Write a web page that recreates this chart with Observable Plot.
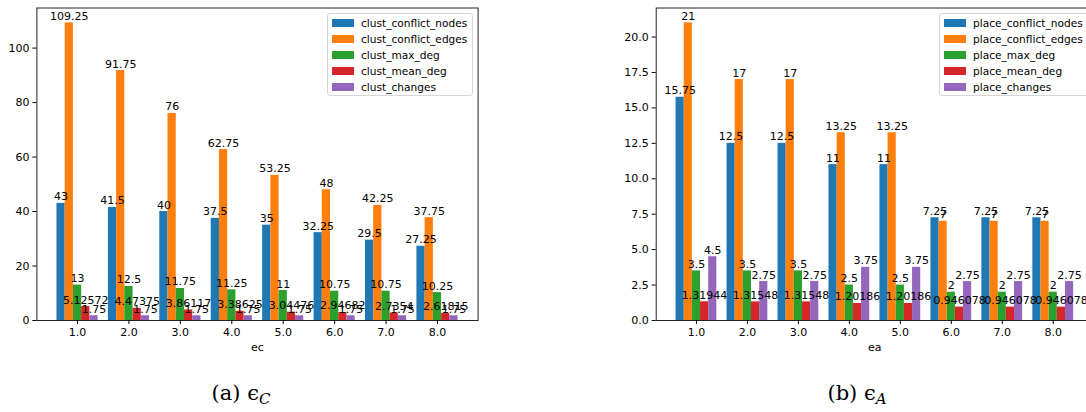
<!DOCTYPE html>
<html>
<head>
<meta charset="utf-8">
<script src="https://cdn.jsdelivr.net/npm/d3@7"></script>
<script src="https://cdn.jsdelivr.net/npm/@observablehq/plot@0.6"></script>
<style>
  html, body { margin: 0; padding: 0; background: #fff; }
  body { width: 1086px; height: 412px; overflow: hidden; position: relative; font-family: "DejaVu Sans", sans-serif; }
  .panel { position: absolute; top: 0; }
  .panel svg { max-width: none !important; display: block; }
  .legend { position: absolute; top: 13px; height: 83px; border: 1px solid #d6d6d6; border-radius: 3px; background: rgba(255,255,255,0.85); box-sizing: border-box; }
  .row { position: absolute; left: 0; height: 16px; line-height: 16px; font-size: 10.6px; color: #000; white-space: nowrap; }
  .sw { position: absolute; left: 4px; top: 4px; width: 22px; height: 8px; }
  .lab { position: absolute; left: 33px; top: 0; }
  .caption { position: absolute; top: 381px; font-family: "DejaVu Serif", "Liberation Serif", serif; font-size: 21px; color: #000; transform: translateX(-50%); white-space: nowrap; }
  .caption sub { font-size: 15px; font-style: italic; vertical-align: -4px; }
</style>
</head>
<body>
<script>
// ---------- data ----------
const categories = [1, 2, 3, 4, 5, 6, 7, 8];

const clustSeries = ["clust_conflict_nodes", "clust_conflict_edges", "clust_max_deg", "clust_mean_deg", "clust_changes"];
const clustConflictNodes = [43, 41.5, 40, 37.5, 35, 32.25, 29.5, 27.25];
const clustConflictEdges = [109.25, 91.75, 76, 62.75, 53.25, 48, 42.25, 37.75];
const clustMaxDeg = [13, 12.5, 11.75, 11.25, 11, 10.75, 10.75, 10.25];
const clustMeanDeg = [5.12572, 4.47375, 3.86117, 3.38625, 3.04476, 2.94682, 2.7354, 2.61815];
const clustChanges = [1.75, 1.75, 1.75, 1.75, 1.75, 1.75, 1.75, 1.75];

const placeSeries = ["place_conflict_nodes", "place_conflict_edges", "place_max_deg", "place_mean_deg", "place_changes"];
const placeConflictNodes = [15.75, 12.5, 12.5, 11, 11, 7.25, 7.25, 7.25];
const placeConflictEdges = [21, 17, 17, 13.25, 13.25, 7, 7, 7];
const placeMaxDeg = [3.5, 3.5, 3.5, 2.5, 2.5, 2, 2, 2];
const placeMeanDeg = [1.31944, 1.31548, 1.31548, 1.20186, 1.20186, 0.946078, 0.946078, 0.946078];
const placeChanges = [4.5, 2.75, 2.75, 3.75, 3.75, 2.75, 2.75, 2.75];

const clustTicksY = [0, 20, 40, 60, 80, 100];
const placeTicksY = [0, 2.5, 5, 7.5, 10, 12.5, 15, 17.5, 20];

const colors = ["#1f77b4", "#ff7f0e", "#2ca02c", "#d62728", "#9467bd"];

// ---------- helpers ----------
const barWidth = 0.16;
const fmt = d3.format("~g");

function buildRows(series, arrays) {
  const rows = [];
  series.forEach((s, i) => {
    arrays[i].forEach((v, j) => rows.push({cat: categories[j], i, series: s, value: v}));
  });
  return rows;
}

function chart({series, arrays, ticksY, tickFmtY, label, width, marginLeft, marginRight}) {
  const rows = buildRows(series, arrays);
  const maxV = d3.max(rows, d => d.value);
  return Plot.plot({
    width, height: 360,
    marginLeft, marginRight, marginTop: 7.5, marginBottom: 40,
    x: {domain: [0.21, 8.79]},
    y: {domain: [0, maxV * 1.05]},
    color: {domain: series, range: colors},
    style: {fontFamily: "DejaVu Sans, sans-serif", fontSize: "11px", background: "white", color: "black"},
    marks: [
      Plot.rect(rows, {
        x1: d => d.cat - 0.4 + barWidth * d.i,
        x2: d => d.cat - 0.4 + barWidth * (d.i + 1),
        y1: 0, y2: "value", fill: "series"
      }),
      Plot.text(rows, {
        x: d => d.cat - 0.4 + barWidth * (d.i + 0.5),
        y: "value", text: d => fmt(d.value),
        lineAnchor: "bottom", dy: -3, fill: "black", fontSize: 11
      }),
      Plot.frame({stroke: "#222", strokeWidth: 1}),
      Plot.axisX({ticks: categories, tickFormat: ".1f", tickSize: 4, tickPadding: 3.5,
        label, labelAnchor: "center", labelArrow: "none", labelOffset: 30}),
      Plot.axisY({ticks: ticksY, tickFormat: tickFmtY, tickSize: 4, tickPadding: 3.5, label: null})
    ]
  });
}

function legend(series, left, width) {
  const box = document.createElement("div");
  box.className = "legend";
  box.style.left = left + "px";
  box.style.width = width + "px";
  series.forEach((s, i) => {
    const row = document.createElement("div");
    row.className = "row";
    row.style.top = (1 + 16 * i) + "px";
    const sw = document.createElement("div");
    sw.className = "sw";
    sw.style.background = colors[i];
    const lab = document.createElement("div");
    lab.className = "lab";
    lab.textContent = s;
    row.appendChild(sw); row.appendChild(lab);
    box.appendChild(row);
  });
  return box;
}

// ---------- left panel ----------
const left = document.createElement("div");
left.className = "panel";
left.style.left = "0px";
left.style.width = "543px";
left.appendChild(chart({
  series: clustSeries,
  arrays: [clustConflictNodes, clustConflictEdges, clustMaxDeg, clustMeanDeg, clustChanges],
  ticksY: clustTicksY, tickFmtY: d => String(d), label: "ec",
  width: 543, marginLeft: 36.4, marginRight: 65.4
}));
document.body.appendChild(left);
document.body.appendChild(legend(clustSeries, 327, 146));

// ---------- right panel ----------
const right = document.createElement("div");
right.className = "panel";
right.style.left = "543px";
right.style.width = "560px";
right.appendChild(chart({
  series: placeSeries,
  arrays: [placeConflictNodes, placeConflictEdges, placeMaxDeg, placeMeanDeg, placeChanges],
  ticksY: placeTicksY, tickFmtY: ".1f", label: "ea",
  width: 560, marginLeft: 112.7, marginRight: 10
}));
document.body.appendChild(right);
document.body.appendChild(legend(placeSeries, 939, 150));

// ---------- captions ----------
function caption(html, cx) {
  const c = document.createElement("div");
  c.className = "caption";
  c.style.left = cx + "px";
  c.innerHTML = html;
  document.body.appendChild(c);
}
caption("(a) \u03F5<sub>C</sub>", 241);
caption("(b) \u03F5<sub>A</sub>", 857);
</script>
</body>
</html>
